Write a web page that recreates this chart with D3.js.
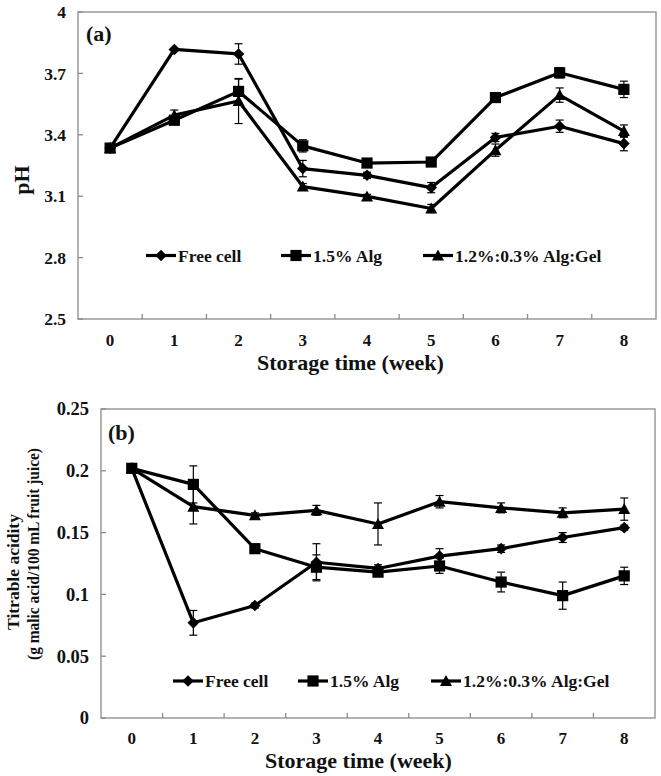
<!DOCTYPE html>
<html><head><meta charset="utf-8">
<script src="https://cdn.jsdelivr.net/npm/d3@7"></script>
<style>body{margin:0;background:#fff}svg{display:block}text{font-family:"Liberation Serif","Times New Roman",serif;font-weight:bold;fill:#111}</style>
</head><body>
<script>
const weeks = [0,1,2,3,4,5,6,7,8];
const seriesNames = ["Free cell","1.5% Alg","1.2%:0.3% Alg:Gel"];
const symbolsUsed = ["diamond","square","triangle"];
// Panel (a) pH
const phFree   = [3.335,3.817,3.795,3.235,3.202,3.142,3.387,3.442,3.357];
const phAlg    = [3.335,3.471,3.612,3.346,3.262,3.267,3.582,3.703,3.622];
const phGel    = [3.335,3.496,3.565,3.147,3.099,3.040,3.325,3.594,3.418];
const phFreeErr= [0,0,0.05,0.04,0.015,0.025,0.02,0.03,0.035];
const phAlgErr = [0,0.02,0.06,0.03,0.01,0.01,0.01,0.025,0.04];
const phGelErr = [0,0.025,0.11,0.015,0.01,0.02,0.03,0.035,0.03];
const phTicks  = [2.5,2.8,3.1,3.4,3.7,4.0];
const phTickLabels = ["2.5","2.8","3.1","3.4","3.7","4"];
// Panel (b) titrable acidity
const taFree   = [0.202,0.077,0.091,0.126,0.121,0.131,0.137,0.146,0.154];
const taAlg    = [0.202,0.189,0.137,0.122,0.118,0.123,0.110,0.099,0.115];
const taGel    = [0.202,0.171,0.164,0.168,0.157,0.175,0.170,0.166,0.169];
const taFreeErr= [0,0.010,0.002,0.015,0.003,0.006,0.003,0.004,0.002];
const taAlgErr = [0,0.015,0.003,0.010,0.003,0.006,0.008,0.011,0.007];
const taGelErr = [0,0.014,0.002,0.004,0.017,0.005,0.004,0.004,0.009];
const taTicks  = [0,0.05,0.1,0.15,0.2,0.25];
const taTickLabels = ["0","0.05","0.1","0.15","0.2","0.25"];

const svg = d3.select("body").append("svg").attr("width",661).attr("height",776);

const symPath = {
  diamond: "M0,-5.8L5.8,0L0,5.8L-5.8,0Z",
  square: "M-5.6,-5.6H5.6V5.6H-5.6Z",
  triangle: "M0,-6L6,5L-6,5Z"
};

function panel(cfg){
  const g = svg.append("g");
  const x = d3.scaleBand().domain(weeks).range([cfg.left,cfg.right]);
  const y = d3.scaleLinear().domain(cfg.domain).range([cfg.bottom,cfg.top]);
  const cx = d => x(d)+x.bandwidth()/2;
  g.append("rect").attr("x",cfg.left).attr("y",cfg.top).attr("width",cfg.right-cfg.left).attr("height",cfg.bottom-cfg.top)
    .attr("fill","none").attr("stroke","#8a8a8a").attr("stroke-width",1.3);
  cfg.ticks.forEach((t,i)=>{
    g.append("line").attr("x1",cfg.left).attr("x2",cfg.left+5).attr("y1",y(t)).attr("y2",y(t)).attr("stroke","#8a8a8a").attr("stroke-width",1.3);
    g.append("text").attr("x",cfg.left-12).attr("y",y(t)).attr("dy","0.35em").attr("text-anchor","end")
      .attr("font-size",cfg.yFont).text(cfg.tickLabels[i]);
  });
  weeks.slice(1).forEach(w=>{
    g.append("line").attr("x1",x(w)).attr("x2",x(w)).attr("y1",cfg.bottom).attr("y2",cfg.bottom-5).attr("stroke","#8a8a8a").attr("stroke-width",1.3);
  });
  weeks.forEach(w=>{
    g.append("text").attr("x",cx(w)).attr("y",cfg.bottom+cfg.xLabOff).attr("dy","0.35em").attr("text-anchor","middle").attr("font-size",17).text(w);
  });
  g.append("text").attr("x",cfg.xTitleX).attr("y",cfg.bottom+cfg.xTitleOff).attr("dy","0.35em").attr("font-size",22).text("Storage time (week)");
  g.append("text").attr("x",cfg.labelX).attr("y",cfg.labelY).attr("dy","0.35em").attr("font-size",22).text(cfg.label);
  const line = d3.line().x((d,i)=>cx(weeks[i])).y(d=>y(d));
  cfg.series.forEach(s=>{
    g.append("path").attr("d",line(s.v)).attr("fill","none").attr("stroke","#000").attr("stroke-width",3.2).attr("stroke-linejoin","round");
  });
  cfg.series.forEach(s=>{
    s.v.forEach((v,i)=>{
      const e = s.e[i]; if(!e) return;
      const xx = cx(weeks[i]);
      g.append("line").attr("x1",xx).attr("x2",xx).attr("y1",y(v-e)).attr("y2",y(v+e)).attr("stroke","#000").attr("stroke-width",1.2);
      [v-e,v+e].forEach(t=>g.append("line").attr("x1",xx-4).attr("x2",xx+4).attr("y1",y(t)).attr("y2",y(t)).attr("stroke","#000").attr("stroke-width",1.2));
    });
  });
  cfg.series.forEach((s,k)=>{
    g.selectAll(null).data(s.v).enter().append("path")
      .attr("d",symPath[symbolsUsed[k]])
      .attr("transform",(d,i)=>`translate(${cx(weeks[i])},${y(d)})`)
      .attr("fill","#000");
  });
  cfg.legend.forEach((lx,k)=>{
    g.append("line").attr("x1",lx).attr("x2",lx+30).attr("y1",cfg.legendY).attr("y2",cfg.legendY).attr("stroke","#000").attr("stroke-width",3.2);
    g.append("path").attr("d",symPath[symbolsUsed[k]]).attr("transform",`translate(${lx+15},${cfg.legendY})`).attr("fill","#000");
    g.append("text").attr("x",lx+32).attr("y",cfg.legendY).attr("dy","0.35em").attr("font-size",17.5).text(seriesNames[k]);
  });
  return {x,y};
}

panel({left:78,right:656,top:12,bottom:319,domain:[2.5,4.0],ticks:phTicks,tickLabels:phTickLabels,yFont:17.5,xLabOff:21,xTitleOff:43,
  series:[{v:phFree,e:phFreeErr},{v:phAlg,e:phAlgErr},{v:phGel,e:phGelErr}],
  legend:[146,281,423],legendY:255.5,label:"(a)",labelX:86,labelY:33,xTitleX:257});
panel({left:101,right:655,top:409,bottom:718,domain:[0,0.25],ticks:taTicks,tickLabels:taTickLabels,yFont:18.5,xLabOff:20,xTitleOff:42,
  series:[{v:taFree,e:taFreeErr},{v:taAlg,e:taAlgErr},{v:taGel,e:taGelErr}],
  legend:[173,298,431],legendY:681,label:"(b)",labelX:108,labelY:432,xTitleX:265});

svg.append("text").attr("transform","translate(21,180) rotate(-90)").attr("text-anchor","middle").attr("dy","0.35em").attr("font-size",22).text("pH");
svg.append("text").attr("transform","translate(13,572) rotate(-90)").attr("text-anchor","middle").attr("dy","0.35em").attr("font-size",17.5).text("Titrable acidity");
svg.append("text").attr("transform","translate(33,554) rotate(-90)").attr("text-anchor","middle").attr("dy","0.35em").attr("font-size",17)
  .attr("textLength",212).attr("lengthAdjust","spacingAndGlyphs").text("(g malic acid/100 mL fruit juice)");
</script>
</body></html>
